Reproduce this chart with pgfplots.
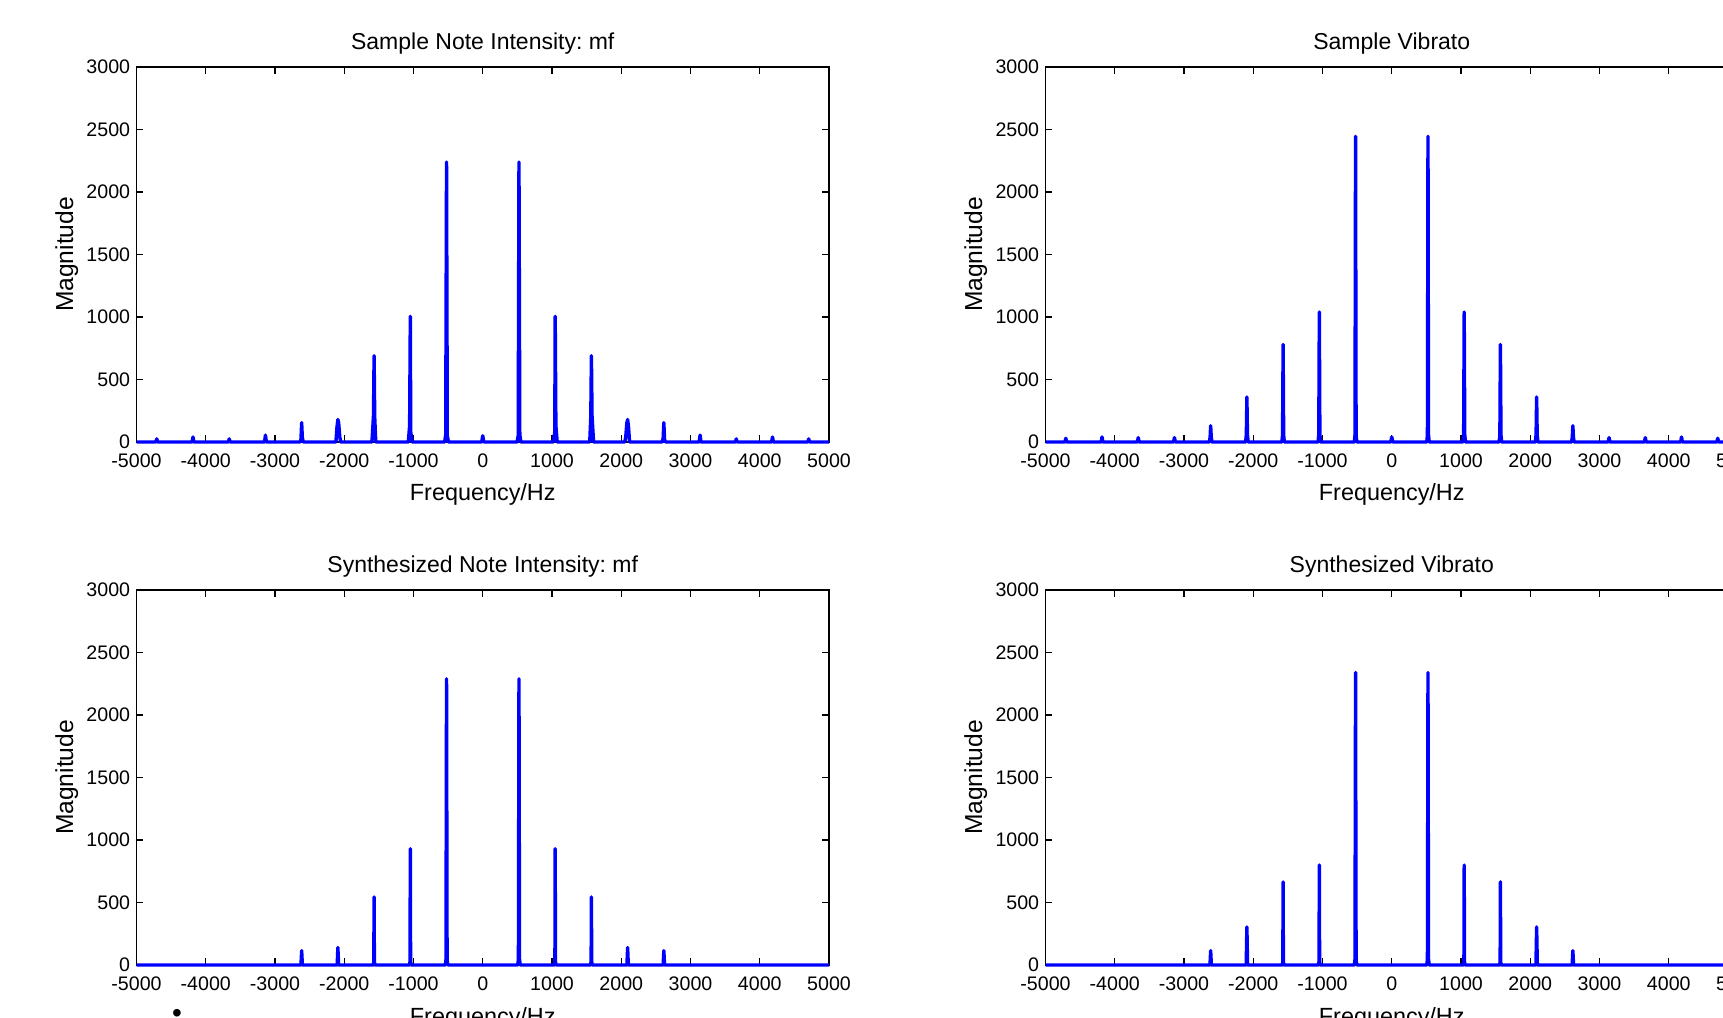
\documentclass[border=0pt]{standalone}
\usepackage{fontspec}
\setmainfont{Liberation Sans}
\usepackage{pgfplots}
\pgfplotsset{compat=1.18}
\usepackage{pgfplotstable}
\frenchspacing

\pgfplotstableread{
x y
-5000 0
-4720 0
-4707 25
-4694 0
-4197 0
-4184 40
-4171 0
-3674 0
-3661 25
-3648 0
-3151 0
-3138 55
-3125 0
-2640 0
-2625 20
-2615 155
-2605 30
-2590 0
-2120 0
-2105 120
-2092 180
-2080 150
-2065 40
-2050 0
-1600 0
-1578 210
-1569 690
-1560 200
-1545 0
-1075 0
-1056 130
-1046 1005
-1040 80
-1020 0
-550 0
-535 60
-523 2240
-512 50
-495 0
-15 0
0 50
15 0
495 0
512 50
523 2240
535 60
550 0
1020 0
1040 80
1046 1005
1056 130
1075 0
1545 0
1560 200
1569 690
1578 210
1600 0
2050 0
2065 40
2080 150
2092 180
2105 120
2120 0
2590 0
2605 30
2615 155
2625 20
2640 0
3125 0
3138 55
3151 0
3648 0
3661 25
3674 0
4171 0
4184 40
4197 0
4694 0
4707 25
4720 0
5000 0
}\TLdata

\pgfplotstableread{
x y
-5000 0
-4720 0
-4707 30
-4694 0
-4197 0
-4184 40
-4171 0
-3674 0
-3661 35
-3648 0
-3151 0
-3138 35
-3125 0
-2633 0
-2623 40
-2615 130
-2607 40
-2597 0
-2110 0
-2100 60
-2092 360
-2084 60
-2074 0
-1587 0
-1577 55
-1569 780
-1561 55
-1551 0
-1064 0
-1054 60
-1046 1040
-1038 60
-1028 0
-541 0
-531 55
-523 2445
-515 55
-505 0
-15 0
0 40
15 0
505 0
515 55
523 2445
531 55
541 0
1028 0
1038 60
1046 1040
1054 60
1064 0
1551 0
1561 55
1569 780
1577 55
1587 0
2074 0
2084 60
2092 360
2100 60
2110 0
2597 0
2607 40
2615 130
2623 40
2633 0
3125 0
3138 35
3151 0
3648 0
3661 35
3674 0
4171 0
4184 40
4197 0
4694 0
4707 30
4720 0
5000 0
}\TRdata

\pgfplotstableread{
x y
-5000 0
-2625 0
-2615 115
-2605 0
-2102 0
-2092 140
-2082 0
-1581 0
-1573 30
-1569 545
-1565 30
-1557 0
-1058 0
-1050 30
-1046 930
-1042 30
-1034 0
-541 0
-531 45
-523 2290
-515 45
-505 0
505 0
515 45
523 2290
531 45
541 0
1034 0
1042 30
1046 930
1050 30
1058 0
1557 0
1565 30
1569 545
1573 30
1581 0
2082 0
2092 140
2102 0
2605 0
2615 115
2625 0
5000 0
}\BLdata

\pgfplotstableread{
x y
-5000 0
-2625 0
-2615 115
-2605 0
-2102 0
-2092 305
-2082 0
-1581 0
-1573 25
-1569 665
-1565 25
-1557 0
-1058 0
-1050 30
-1046 800
-1042 30
-1034 0
-541 0
-531 45
-523 2340
-515 45
-505 0
505 0
515 45
523 2340
531 45
541 0
1034 0
1042 30
1046 800
1050 30
1058 0
1557 0
1565 25
1569 665
1573 25
1581 0
2082 0
2092 305
2102 0
2605 0
2615 115
2625 0
5000 0
}\BRdata

\pgfplotsset{
  every axis title shift=0pt,
  mlab/.style={
    scale only axis,
    width=346.25pt, height=187.5pt,
    anchor=south west,
    xmin=-5000, xmax=5000, ymin=0, ymax=3000,
    xtick={-5000,-4000,...,5000},
    ytick={0,500,...,3000},
    tick align=inside,
    major tick length=3.4pt,
    axis line style={line width=0.8pt, black},
    every tick/.style={black, line width=0.7pt},
    scaled ticks=false,
    /pgf/number format/1000 sep={},
    /pgf/number format/assume math mode=true,
    ticklabel style={font=\fontsize{9.8}{11}\selectfont},
    xticklabel style={anchor=center, inner sep=0pt, yshift=-9.5pt},
    yticklabel style={anchor=east, inner sep=0pt, xshift=-3pt},
    clip=false,
    title style={at={([yshift=8.5pt]axis description cs:0.5,1)}, anchor=base, inner sep=0pt, font=\fontsize{11.5}{13}\selectfont},
    every axis x label/.style={at={([yshift=-29.5pt]axis description cs:0.5,0)}, anchor=base, inner sep=0pt, font=\fontsize{11.7}{13}\selectfont},
    every axis y label/.style={at={([xshift=-31.7pt]axis description cs:0,0.5)}, rotate=90, anchor=base, inner sep=0pt, font=\fontsize{12.3}{14}\selectfont},
    xlabel={Frequency/Hz},
    ylabel={Magnitude},
  },
  specline/.style={color={rgb,255:red,0;green,0;blue,255}, line width=1.7pt, line join=round, line cap=butt, mark=none},
}

\begin{document}
\begin{tikzpicture}
\useasboundingbox (0,0) rectangle (861.5pt,508.5pt);
\clip (0,0) rectangle (861.5pt,508.5pt);

\begin{axis}[mlab, at={(68.25pt,287.5pt)}, title={Sample Note Intensity: mf}]
\addplot[specline] table[x=x,y=y] {\TLdata};
\end{axis}

\begin{axis}[mlab, at={(522.75pt,287.5pt)}, title={Sample Vibrato}]
\addplot[specline] table[x=x,y=y] {\TRdata};
\end{axis}

\begin{axis}[mlab, at={(68.25pt,26pt)}, title={Synthesized Note Intensity: mf}]
\addplot[specline] table[x=x,y=y] {\BLdata};
\end{axis}

\begin{axis}[mlab, at={(522.75pt,26pt)}, title={Synthesized Vibrato}]
\addplot[specline] table[x=x,y=y] {\BRdata};
\end{axis}

\node[font=\fontsize{14}{14}\selectfont, inner sep=0pt, anchor=base] at (88.5pt,-2.9pt) {•};
\end{tikzpicture}
\end{document}
